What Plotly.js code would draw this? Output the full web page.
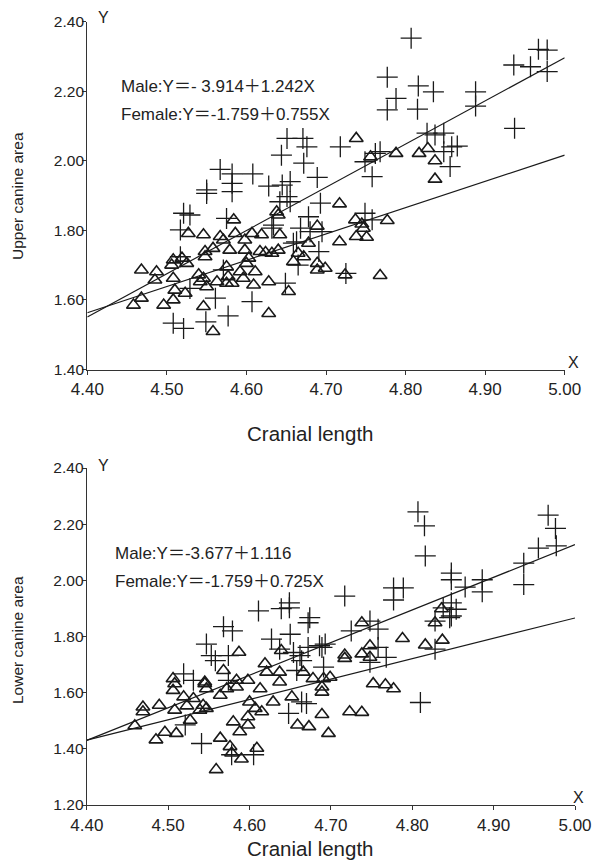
<!DOCTYPE html>
<html><head><meta charset="utf-8">
<script src="https://cdn.plot.ly/plotly-3.0.1.min.js"></script>
<style>html,body{margin:0;padding:0;background:#fff}#chart{width:594px;height:866px}</style>
</head><body><div id="chart"></div>
<script>
const xTicks = [4.40, 4.50, 4.60, 4.70, 4.80, 4.90, 5.00];
const upperYTicks = [1.40, 1.60, 1.80, 2.00, 2.20, 2.40];
const lowerYTicks = [1.20, 1.40, 1.60, 1.80, 2.00, 2.20, 2.40];

const upperMaleX = [4.651,4.671,4.676,4.644,4.672,4.567,4.582,4.608,4.689,4.582,4.628,4.645,4.655,4.550,4.550,4.582,4.651,4.642,4.655,4.693,4.521,4.529,4.575,4.678,4.517,4.632,4.668,4.680,4.663,4.634,4.517,4.561,4.607,4.577,4.508,4.521,4.549,4.649,4.659,4.691,4.665,4.529,4.571,4.807,4.777,4.816,4.835,4.788,4.777,4.815,4.888,4.888,4.936,4.957,4.967,4.978,4.978,4.937,4.718,4.758,4.749,4.762,4.768,4.827,4.837,4.848,4.848,4.858,4.865,4.856,4.695,4.749,4.758,4.725];
const upperMaleY = [2.064,2.064,2.040,2.016,1.993,1.975,1.962,1.962,1.952,1.935,1.927,1.930,1.940,1.916,1.906,1.911,1.897,1.882,1.882,1.878,1.849,1.844,1.834,1.839,1.801,1.806,1.806,1.796,1.767,1.815,1.724,1.605,1.595,1.554,1.533,1.518,1.537,1.648,1.763,1.739,1.700,1.633,1.686,2.352,2.240,2.215,2.198,2.179,2.146,2.148,2.198,2.157,2.275,2.270,2.320,2.318,2.256,2.093,2.040,1.954,1.997,2.021,2.026,2.079,2.074,2.079,2.026,2.040,2.042,1.983,1.796,1.849,1.830,1.676];

const upperFemaleX = [4.584,4.527,4.546,4.567,4.571,4.607,4.619,4.642,4.638,4.640,4.689,4.678,4.586,4.598,4.548,4.548,4.558,4.579,4.598,4.617,4.624,4.632,4.640,4.665,4.659,4.672,4.689,4.689,4.699,4.468,4.487,4.485,4.506,4.508,4.519,4.525,4.508,4.510,4.523,4.468,4.458,4.496,4.508,4.540,4.542,4.546,4.550,4.563,4.575,4.577,4.575,4.582,4.592,4.596,4.600,4.603,4.611,4.609,4.628,4.653,4.546,4.558,4.628,4.738,4.788,4.817,4.828,4.837,4.837,4.756,4.717,4.737,4.747,4.777,4.738,4.751,4.717,4.724,4.768,4.745];
const upperFemaleY = [1.830,1.791,1.787,1.782,1.772,1.791,1.787,1.787,1.853,1.844,1.812,1.763,1.791,1.772,1.739,1.724,1.748,1.743,1.743,1.739,1.736,1.734,1.743,1.734,1.710,1.724,1.705,1.686,1.691,1.686,1.681,1.657,1.700,1.715,1.720,1.705,1.662,1.628,1.619,1.605,1.585,1.585,1.600,1.672,1.652,1.662,1.638,1.652,1.695,1.667,1.648,1.648,1.681,1.662,1.705,1.720,1.681,1.643,1.652,1.624,1.581,1.509,1.561,2.064,2.021,2.021,2.035,2.000,1.947,2.011,1.876,1.830,1.806,1.828,1.782,1.780,1.767,1.672,1.670,1.818];

const lowerMaleX = [4.611,4.639,4.649,4.649,4.674,4.672,4.568,4.579,4.650,4.627,4.547,4.553,4.558,4.574,4.637,4.654,4.662,4.686,4.693,4.664,4.519,4.531,4.574,4.658,4.648,4.664,4.670,4.541,4.578,4.605,4.521,4.807,4.815,4.816,4.967,4.976,4.977,4.955,4.937,4.937,4.848,4.848,4.865,4.886,4.886,4.777,4.789,4.777,4.717,4.838,4.848,4.854,4.848,4.828,4.748,4.758,4.725,4.672,4.689,4.758,4.768,4.748,4.828,4.691,4.810,4.846];
const lowerMaleY = [1.891,1.899,1.920,1.902,1.867,1.849,1.835,1.820,1.808,1.791,1.773,1.732,1.714,1.732,1.755,1.743,1.732,1.767,1.773,1.714,1.667,1.644,1.644,1.679,1.526,1.567,1.561,1.419,1.379,1.379,1.485,2.244,2.194,2.087,2.232,2.185,2.123,2.115,2.061,1.985,2.026,2.002,1.976,2.002,1.959,1.973,1.973,1.930,1.944,1.902,1.920,1.897,1.873,1.855,1.855,1.826,1.820,1.761,1.761,1.761,1.726,1.708,1.755,1.691,1.565,1.867];

const lowerFemaleX = [4.587,4.639,4.619,4.568,4.621,4.637,4.666,4.506,4.545,4.584,4.678,4.691,4.469,4.469,4.489,4.459,4.485,4.496,4.510,4.508,4.523,4.531,4.527,4.519,4.506,4.508,4.545,4.547,4.564,4.572,4.584,4.598,4.613,4.637,4.689,4.689,4.543,4.547,4.539,4.600,4.607,4.615,4.629,4.598,4.580,4.598,4.588,4.564,4.576,4.578,4.590,4.609,4.559,4.652,4.659,4.673,4.689,4.697,4.738,4.836,4.828,4.788,4.816,4.837,4.717,4.717,4.738,4.748,4.748,4.699,4.752,4.767,4.777,4.723,4.738];
const lowerFemaleY = [1.744,1.750,1.703,1.679,1.673,1.673,1.673,1.650,1.638,1.644,1.650,1.650,1.549,1.532,1.555,1.482,1.432,1.459,1.455,1.538,1.553,1.579,1.502,1.585,1.608,1.632,1.632,1.614,1.591,1.614,1.620,1.644,1.614,1.638,1.620,1.602,1.555,1.544,1.538,1.567,1.544,1.532,1.567,1.514,1.496,1.485,1.461,1.438,1.408,1.385,1.364,1.402,1.326,1.585,1.485,1.479,1.522,1.455,1.849,1.899,1.849,1.793,1.770,1.787,1.734,1.722,1.738,1.767,1.726,1.655,1.632,1.628,1.614,1.532,1.530];

const lineX = [4.40, 5.00];
const upperMaleLine = [1.551, 2.296];
const upperFemaleLine = [1.563, 2.016];
const lowerMaleLine = [1.430, 2.127];
const lowerFemaleLine = [1.431, 1.866];

const eqUpper = ['Male:Y＝- 3.914＋1.242X', 'Female:Y＝-1.759＋0.755X'];
const eqLower = ['Male:Y＝-3.677＋1.116', 'Female:Y＝-1.759＋0.725X'];
const xTitle = 'Cranial length';
const yTitleUpper = 'Upper canine area';
const yTitleLower = 'Lower canine area';

const FONT = 'Liberation Sans, Arial, Noto Sans CJK SC, sans-serif';
const INK = '#1a1a1a';
const W = 594, H = 866;

const male = {symbol: 'cross-thin-open', size: 15, color: INK, line: {color: INK, width: 1.3}};
const female = {symbol: 'triangle-up-open', size: 12, color: INK, line: {color: INK, width: 1.6}};
const lineStyle = {color: INK, width: 1.2};

const traces = [
  {x: lineX, y: upperMaleLine, mode: 'lines', line: lineStyle, xaxis: 'x', yaxis: 'y', hoverinfo: 'skip'},
  {x: lineX, y: upperFemaleLine, mode: 'lines', line: lineStyle, xaxis: 'x', yaxis: 'y', hoverinfo: 'skip'},
  {x: upperFemaleX, y: upperFemaleY, mode: 'markers', marker: female, xaxis: 'x', yaxis: 'y', name: 'Female'},
  {x: upperMaleX, y: upperMaleY, mode: 'markers', marker: male, xaxis: 'x', yaxis: 'y', name: 'Male'},
  {x: lineX, y: lowerMaleLine, mode: 'lines', line: lineStyle, xaxis: 'x2', yaxis: 'y2', hoverinfo: 'skip'},
  {x: lineX, y: lowerFemaleLine, mode: 'lines', line: lineStyle, xaxis: 'x2', yaxis: 'y2', hoverinfo: 'skip'},
  {x: lowerFemaleX, y: lowerFemaleY, mode: 'markers', marker: female, xaxis: 'x2', yaxis: 'y2', name: 'Female'},
  {x: lowerMaleX, y: lowerMaleY, mode: 'markers', marker: male, xaxis: 'x2', yaxis: 'y2', name: 'Male'}
];

function axisBase(extra) {
  return Object.assign({
    showline: true, linecolor: '#333', linewidth: 1.2,
    ticks: 'outside', ticklen: 4, tickwidth: 1, tickcolor: '#333',
    showgrid: false, zeroline: false, tickformat: '.2f',
    tickfont: {family: FONT, size: 15.5, color: '#222'},
    fixedrange: true
  }, extra);
}
const xTickFont = {family: FONT, size: 17, color: '#222'};

const px = v => v / W;
const py = v => 1 - v / H;

const layout = {
  width: W, height: H,
  margin: {l: 0, r: 0, t: 0, b: 0},
  paper_bgcolor: '#fff', plot_bgcolor: '#fff',
  showlegend: false,
  font: {family: FONT, color: '#222'},
  xaxis: axisBase({domain: [px(87.3), px(564.7)], range: [4.4, 5.0], tickvals: xTicks, anchor: 'y', tickfont: xTickFont}),
  yaxis: axisBase({domain: [py(369.5), py(21.5)], range: [1.4, 2.4], tickvals: upperYTicks, anchor: 'x', ticklabelstandoff: -5}),
  xaxis2: axisBase({domain: [px(86.8), px(575)], range: [4.4, 5.0], tickvals: xTicks, anchor: 'y2', tickfont: xTickFont}),
  yaxis2: axisBase({domain: [py(805), py(468)], range: [1.2, 2.4], tickvals: lowerYTicks, anchor: 'x2', ticklabelstandoff: -5}),
  annotations: [
    {text: eqUpper[0], x: px(119), y: py(87), xanchor: 'left', yanchor: 'middle'},
    {text: eqUpper[1], x: px(119), y: py(115), xanchor: 'left', yanchor: 'middle'},
    {text: eqLower[0], x: px(113), y: py(553), xanchor: 'left', yanchor: 'middle'},
    {text: eqLower[1], x: px(113), y: py(581), xanchor: 'left', yanchor: 'middle'},
    {text: 'Y', x: px(96), y: py(17), xanchor: 'left', yanchor: 'middle', font: {size: 16}},
    {text: 'X', x: px(566), y: py(362), xanchor: 'left', yanchor: 'middle', font: {size: 16}},
    {text: 'Y', x: px(96), y: py(465), xanchor: 'left', yanchor: 'middle', font: {size: 16}},
    {text: 'X', x: px(571), y: py(797), xanchor: 'left', yanchor: 'middle', font: {size: 16}},
    {text: xTitle, x: px(310), y: py(433), xanchor: 'center', yanchor: 'middle', font: {size: 20.5}},
    {text: xTitle, x: px(310), y: py(848), xanchor: 'center', yanchor: 'middle', font: {size: 20.5}},
    {text: yTitleUpper, x: px(17), y: py(196), xanchor: 'center', yanchor: 'middle', textangle: -90, font: {size: 15.5}},
    {text: yTitleLower, x: px(17), y: py(640), xanchor: 'center', yanchor: 'middle', textangle: -90, font: {size: 15.5}}
  ].map(a => Object.assign({xref: 'paper', yref: 'paper', showarrow: false}, a,
      {font: Object.assign({family: FONT, color: '#222', size: 17}, a.font || {})}))
};

Plotly.newPlot('chart', traces, layout, {staticPlot: true, displayModeBar: false});
</script>
</body></html>
